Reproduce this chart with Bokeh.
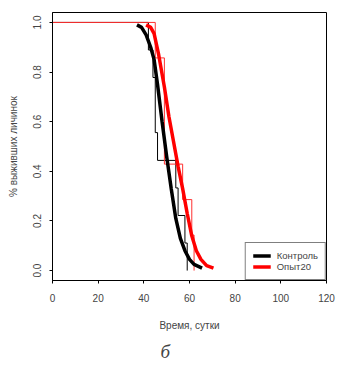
from bokeh.plotting import figure
from bokeh.models import Range1d, FixedTicker, Legend, LegendItem, Title
from bokeh.embed import file_html
from bokeh.resources import INLINE

# Kaplan-Meier steps
ctrl_t = [0, 42, 44, 45, 46, 54, 55, 58, 59]
ctrl_s = [1.0, 0.889, 0.778, 0.556, 0.444, 0.333, 0.222, 0.111, 0.0]
exp_t = [0, 45, 49, 57, 61, 62]
exp_s = [1.0, 0.857, 0.429, 0.286, 0.143, 0.0]

# fitted survival curves
ctrl_fit_x = [37, 39, 41, 43, 44.5, 46, 48, 50, 52, 54, 56, 58, 60, 62, 65.5]
ctrl_fit_y = [0.99, 0.98, 0.95, 0.90, 0.85, 0.75, 0.60, 0.46, 0.33, 0.21, 0.13, 0.08, 0.045, 0.025, 0.01]
exp_fit_x = [41, 43, 44.5, 46.5, 49, 51, 53, 55, 57, 59, 61, 63, 65, 67.5, 70.5]
exp_fit_y = [0.99, 0.98, 0.955, 0.87, 0.74, 0.62, 0.52, 0.42, 0.33, 0.23, 0.14, 0.08, 0.045, 0.02, 0.01]

x_ticks = [0, 20, 40, 60, 80, 100, 120]
y_ticks = [0.0, 0.2, 0.4, 0.6, 0.8, 1.0]
y_tick_labels = ["0.0", "0.2", "0.4", "0.6", "0.8", "1.0"]
series_names = ["Контроль", "Опыт20"]

FONT = "Liberation Sans"

p = figure(width=343, height=366, output_backend="svg", toolbar_location=None,
           x_range=Range1d(0, 120), y_range=Range1d(-0.04, 1.04),
           min_border_left=52, min_border_right=17, min_border_top=12, min_border_bottom=84)
p.xgrid.visible = False
p.ygrid.visible = False
p.outline_line_color = "black"
p.outline_line_width = 1
p.outline_line_alpha = 1

p.step(ctrl_t, ctrl_s, mode="after", line_color="black", line_width=1)
p.step(exp_t, exp_s, mode="after", line_color="#ff3030", line_width=1)
r1 = p.line(ctrl_fit_x, ctrl_fit_y, line_color="black", line_width=3.5)
r2 = p.line(exp_fit_x, exp_fit_y, line_color="red", line_width=3.5)

xa = p.xaxis[0]
xa.ticker = FixedTicker(ticks=x_ticks)
xa.axis_label = "Время, сутки"
xa.axis_label_text_font = FONT
xa.axis_label_text_font_style = "normal"
xa.axis_label_text_font_size = "10px"
xa.axis_label_standoff = 15
xa.major_label_text_font = FONT
xa.major_label_text_font_size = "10px"
xa.major_label_standoff = 10
xa.major_tick_out = 3
xa.major_tick_in = 0
xa.minor_tick_out = 0
xa.minor_tick_in = 0
xa.axis_line_color = "black"

ya = p.yaxis[0]
ya.ticker = FixedTicker(ticks=y_ticks)
ya.major_label_overrides = {t: l for t, l in zip(y_ticks, y_tick_labels)}
ya.major_label_orientation = "vertical"
ya.axis_label = "% выживших личинок"
ya.axis_label_text_font = FONT
ya.axis_label_text_font_style = "normal"
ya.axis_label_text_font_size = "10px"
ya.axis_label_standoff = 12
ya.major_label_text_font = FONT
ya.major_label_text_font_size = "10px"
ya.major_label_standoff = 8
ya.major_tick_out = 3
ya.major_tick_in = 0
ya.minor_tick_out = 0
ya.minor_tick_in = 0
ya.axis_line_color = "black"

legend = Legend(items=[LegendItem(label=series_names[0], renderers=[r1]),
                       LegendItem(label=series_names[1], renderers=[r2])],
                location="bottom_right", margin=0, padding=7, spacing=0,
                glyph_width=18, glyph_height=11, label_height=11,
                label_standoff=6, label_text_font=FONT, label_text_font_size="9.5px",
                border_line_color="black", border_line_width=1,
                background_fill_color="white", background_fill_alpha=1)
p.add_layout(legend)

sub = Title(text="б", align="left", offset=108,
            text_font="Liberation Serif", text_font_style="italic",
            text_font_size="19px", standoff=10)
p.add_layout(sub, "below")

open("out.html", "w").write(file_html(p, INLINE))
